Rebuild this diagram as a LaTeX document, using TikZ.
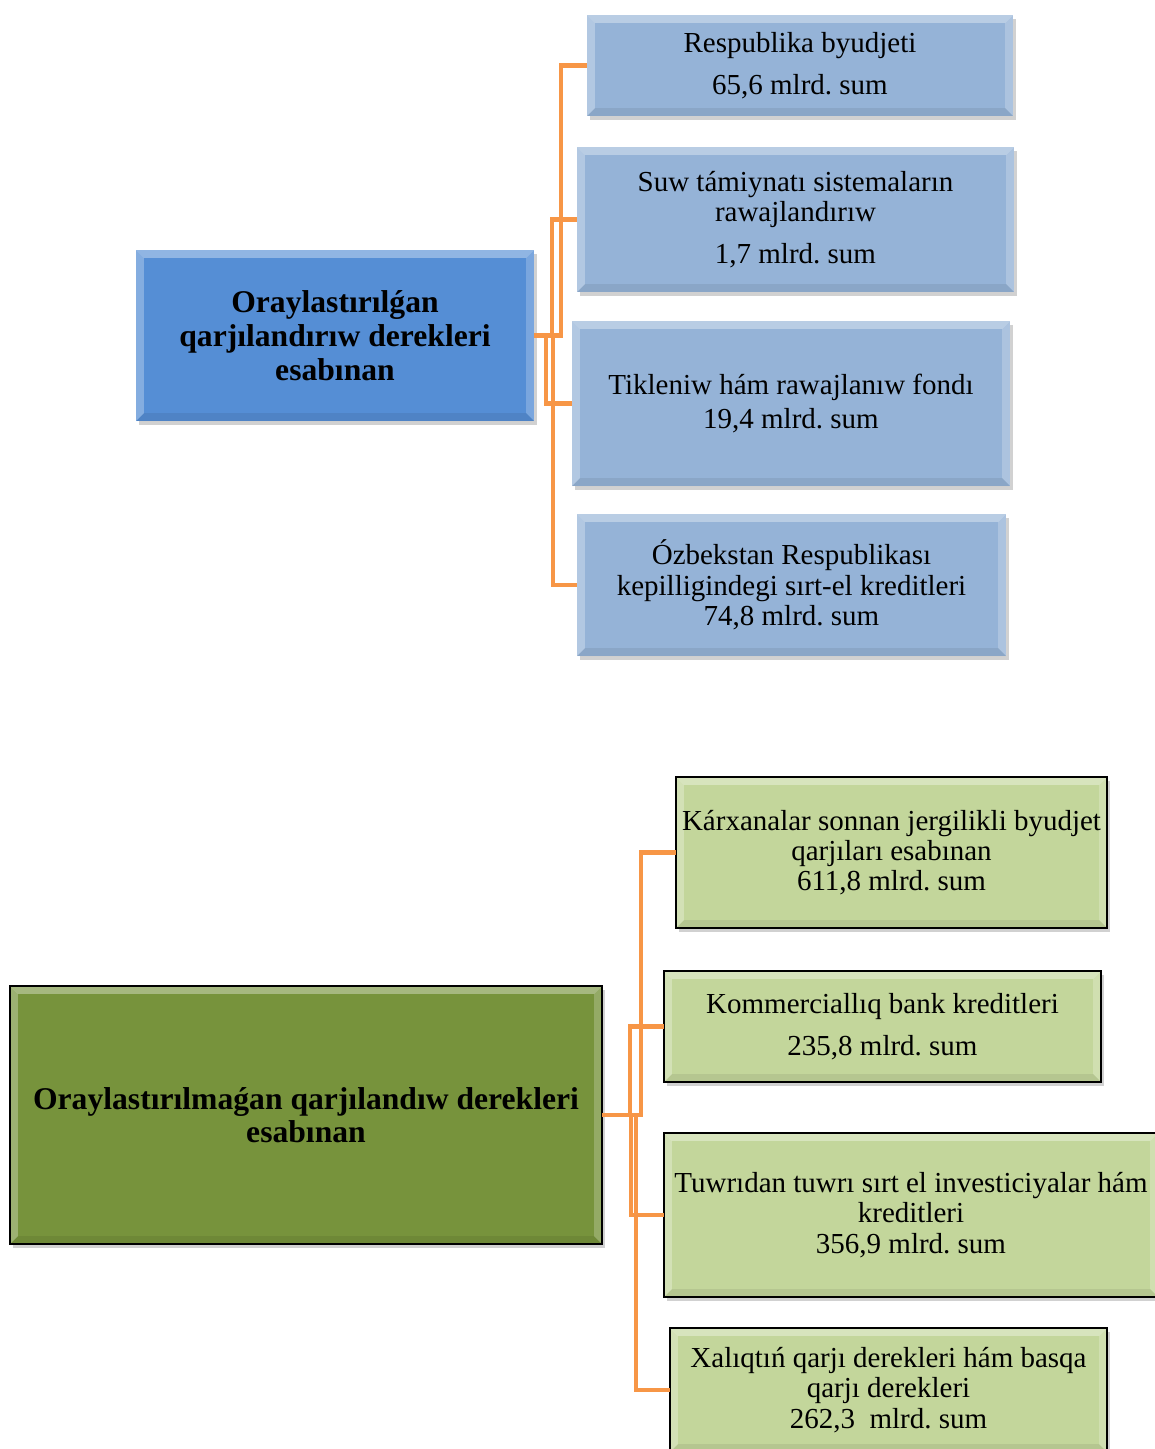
\documentclass[tikz,border=0pt]{standalone}
\usepackage{fontspec}
\setmainfont{Liberation Serif}
\usetikzlibrary{shadows}

\definecolor{mainblue}{HTML}{558ED5}
\definecolor{subblue}{HTML}{95B3D7}
\definecolor{maingreen}{HTML}{77933C}
\definecolor{subgreen}{HTML}{C3D69B}
\definecolor{linkorange}{HTML}{F79646}

\tikzset{
  wh/.style 2 args={minimum width=#1*0.02cm, minimum height=#2*0.02cm},
  bevel/.style={path picture={
    \path (path picture bounding box.north west) coordinate (bnw)
          (path picture bounding box.north east) coordinate (bne)
          (path picture bounding box.south west) coordinate (bsw)
          (path picture bounding box.south east) coordinate (bse);
    \fill[white,opacity=.35] (bnw) -- (bne) -- ([shift={(-#1,-#1)}]bne) -- ([shift={(#1,-#1)}]bnw) -- cycle;
    \fill[white,opacity=.28] (bnw) -- ([shift={(#1,-#1)}]bnw) -- ([shift={(#1,#1)}]bsw) -- (bsw) -- cycle;
    \fill[white,opacity=.22] (bne) -- ([shift={(-#1,-#1)}]bne) -- ([shift={(-#1,#1)}]bse) -- (bse) -- cycle;
    \fill[black,opacity=.07] (bsw) -- ([shift={(#1,#1)}]bsw) -- ([shift={(-#1,#1)}]bse) -- (bse) -- cycle;
  }},
  bevel/.default=4.5pt,
  box/.style={inner sep=0pt, outer sep=0pt, align=center, bevel,
    drop shadow={shadow xshift=1.5pt, shadow yshift=-2pt, opacity=.3, fill=black!60},
    font=\fontsize{16.5}{17.2}\selectfont},
  topmain/.style={box, fill=mainblue, font=\bfseries\fontsize{18}{19.3}\selectfont},
  topsub/.style={box, fill=subblue},
  botmain/.style={box, fill=maingreen, draw=black, line width=0.8pt, font=\bfseries\fontsize{18}{18.7}\selectfont},
  botsub/.style={box, fill=subgreen, draw=black, line width=0.8pt},
  link/.style={draw=linkorange, line width=2.6pt}
}

\begin{document}
\begin{tikzpicture}[x=0.02cm, y=-0.02cm]
\useasboundingbox (0,0) rectangle (1155,1449);
\clip (0,0) rectangle (1155,1449);

\node[topmain, wh={398}{171}] (orai) at (335,335.5) {Oraylastırılǵan\\ qarjılandırıw derekleri\\ esabınan};
\node[topsub, wh={426}{101}] (resp) at (800,65.5) {Respublika byudjeti\\[6.6pt] 65,6 mlrd.\ sum};
\node[topsub, wh={437}{145}] (suw) at (795.5,219.5) {Suw támiynatı sistemaların\\ rawajlandırıw\\[6.6pt] 1,7 mlrd.\ sum};
\node[topsub, wh={438}{165}] (tik) at (791,403.5) {Tikleniw hám rawajlanıw fondı\\[2pt] 19,4 mlrd.\ sum};
\node[topsub, wh={429}{142}] (ozb) at (791.5,585) {Ózbekstan Respublikası\\ kepilligindegi sırt-el kreditleri\\ 74,8 mlrd.\ sum};

\draw[link] (orai.east) -- ++(27,0) |- (resp.west);
\draw[link] (orai.east) -- ++(18,0) |- (suw.west);
\draw[link] (orai.east) -- ++(12,0) |- (tik.west);
\draw[link] (orai.east) -- ++(19,0) |- (ozb.west);

\node[botmain, wh={592}{258}] (oraim) at (306,1115) {Oraylastırılmaǵan qarjılandıw derekleri\\ esabınan};
\node[botsub, wh={431}{151}] (kar) at (891.5,852.5) {Kárxanalar sonnan jergilikli byudjet\\ qarjıları esabınan\\ 611,8 mlrd.\ sum};
\node[botsub, wh={437}{111}] (kom) at (882.5,1026.5) {Kommerciallıq bank kreditleri\\[6.6pt] 235,8 mlrd.\ sum};
\node[botsub, wh={494}{164}] (tuw) at (911,1215) {Tuwrıdan tuwrı sırt el investiciyalar hám\\ kreditleri\\ 356,9 mlrd.\ sum};
\node[botsub, wh={437}{124}] (xal) at (888.5,1390) {Xalıqtıń qarjı derekleri hám basqa\\ qarjı derekleri\\ 262,3~ mlrd.\ sum};

\draw[link] (oraim.east) -- ++(39,0) |- (kar.west);
\draw[link] (oraim.east) -- ++(28,0) |- (kom.west);
\draw[link] (oraim.east) -- ++(29,0) |- (tuw.west);
\draw[link] (oraim.east) -- ++(34,0) |- (xal.west);
\end{tikzpicture}
\end{document}
